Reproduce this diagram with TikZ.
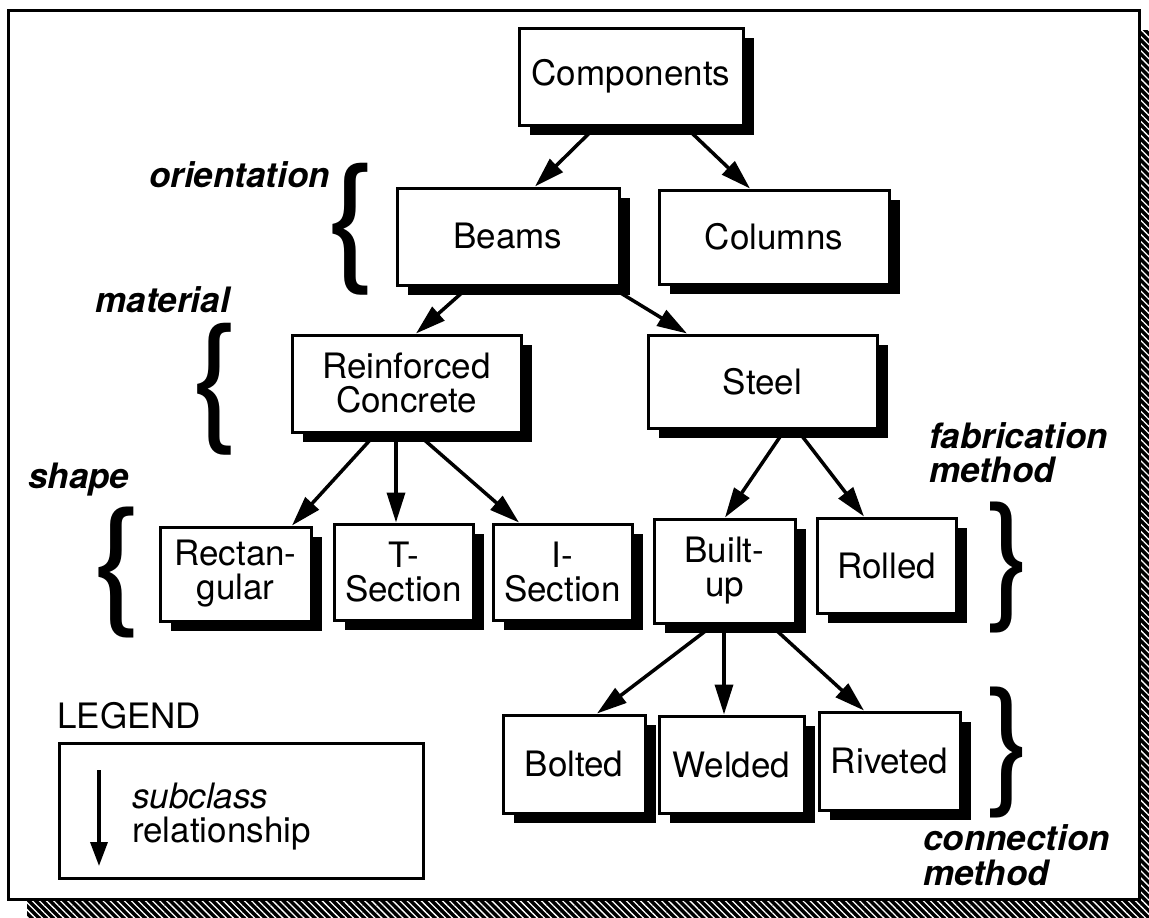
\documentclass[tikz,border=0pt]{standalone}
\usepackage{fontspec}
\setmainfont{TeX Gyre Heros}
\usetikzlibrary{arrows.meta,shadows,patterns.meta}

\begin{document}
\begin{tikzpicture}[x=1pt,y=-1pt,
  every node/.style={inner sep=0pt, font=\fontsize{35}{34}\selectfont},
  cls/.style={draw, line width=3pt, fill=white, align=center,
    drop shadow={shadow xshift=11pt, shadow yshift=-10pt, opacity=1, fill=black}},
  dims/.style 2 args={minimum width=#1pt, minimum height=#2pt},
  sub/.style={line width=3.5pt, -{Triangle[length=30pt,width=18pt]}},
  facet/.style={font=\fontsize{35}{34}\selectfont\bfseries\itshape},
]
\useasboundingbox (0,0) rectangle (1149,918);

% hatched shadow of the outer frame, then the frame itself
\fill[black] (27,30) rectangle (1149,918);
\fill[pattern={Lines[angle=-45,distance=5pt,line width=1.3pt]}, pattern color=white]
  (27,30) rectangle (1149,918);
\draw[line width=3pt, fill=white] (8,10) rectangle (1139,899);

% class hierarchy
\node[cls, dims={224}{97}]  (comp)    at (631,76.5)   {Components};
\node[cls, dims={222}{97}]  (beams)   at (508,236.5)  {Beams};
\node[cls, dims={230}{94}]  (cols)    at (774,237)    {Columns};
\node[cls, dims={229}{97}]  (rc)      at (406.5,383.5){Reinforced\\Concrete};
\node[cls, dims={229}{93}]  (steel)   at (762.5,381.5){Steel};
\node[cls, dims={151}{94}]  (rect)    at (235.5,574)  {Rectan-\\gular};
\node[cls, dims={139}{96}]  (tsec)    at (403.5,572)  {T-\\Section};
\node[cls, dims={139}{96}]  (isec)    at (562.5,572)  {I-\\Section};
\node[cls, dims={141}{104}] (built)   at (724.5,571)  {Built-\\up};
\node[cls, dims={139}{95}]  (rolled)  at (886.5,565.5){Rolled};
\node[cls, dims={142}{98}]  (bolted)  at (574,764)    {Bolted};
\node[cls, dims={145}{97}]  (welded)  at (731.5,764.5){Welded};
\node[cls, dims={141}{98}]  (riveted) at (889.5,761)  {Riveted};

% subclass arrows
\draw[sub] ([xshift=-35pt]comp.south)    -- ([xshift=27pt]beams.north);
\draw[sub] ([xshift=54pt]comp.south)     -- ([xshift=-24pt]cols.north);
\draw[sub] ([xshift=-39pt]beams.south)   -- ([xshift=9.5pt]rc.north);
\draw[sub] ([xshift=102pt]beams.south)   -- ([xshift=-75.5pt]steel.north);
\draw[sub] ([xshift=-30.5pt]rc.south)    -- ([xshift=56.5pt]rect.north);
\draw[sub] ([xshift=-10.5pt]rc.south)    -- ([xshift=-7.5pt]tsec.north);
\draw[sub] ([xshift=10.5pt]rc.south)     -- ([xshift=-43.5pt]isec.north);
\draw[sub] ([xshift=22.5pt]steel.south)  -- ([xshift=0.5pt]built.north);
\draw[sub] ([xshift=34.5pt]steel.south)  -- ([xshift=-22.5pt]rolled.north);
\draw[sub] ([xshift=-10.5pt]built.south) -- ([xshift=23pt]bolted.north);
\draw[sub] ([xshift=-0.5pt]built.south)  -- ([xshift=-7.5pt]welded.north);
\draw[sub] ([xshift=45.5pt]built.south)  -- ([xshift=-25.5pt]riveted.north);

% facet labels and braces
\node[facet, anchor=base east] (forient) at (330,187) {orientation};
\node[facet, anchor=base east] (fmat)    at (230,312) {material};
\node[facet, anchor=base west] (fshape)  at (28,488)  {shape};
\node[facet, anchor=base west] (ffab1)   at (929,448) {fabrication};
\node[facet, anchor=base west] (ffab2)   at (929,482) {method};
\node[facet, anchor=base west] (fcon1)   at (923,850) {connection};
\node[facet, anchor=base west] (fcon2)   at (923,885) {method};

\node (borient) at (351.5,229)  {\resizebox*{50pt}{132pt}{\{}};
\node (bmat)    at (215.5,389)  {\resizebox*{48pt}{132pt}{\{}};
\node (bshape)  at (117.5,572.5){\resizebox*{50pt}{131pt}{\{}};
\node (bfab)    at (1009.5,567.5){\resizebox*{46pt}{131pt}{\}}};
\node (bcon)    at (1009.5,752.5){\resizebox*{46pt}{131pt}{\}}};

% legend
\node[anchor=base west] (legend) at (57,728) {LEGEND};
\node[draw, line width=3pt, dims={364}{135}] (legbox) at (241,810.5) {};
\coordinate (legtop) at (99,770);
\coordinate (legbot) at (99,866);
\draw[line width=3.5pt, -{Triangle[length=24pt,width=17pt]}] (legtop) -- (legbot);
\node[anchor=base west, font=\fontsize{35}{34}\selectfont\itshape] (legsub) at (132,808) {subclass};
\node[anchor=base west] (legrel) at (132,842) {relationship};
\end{tikzpicture}
\end{document}
